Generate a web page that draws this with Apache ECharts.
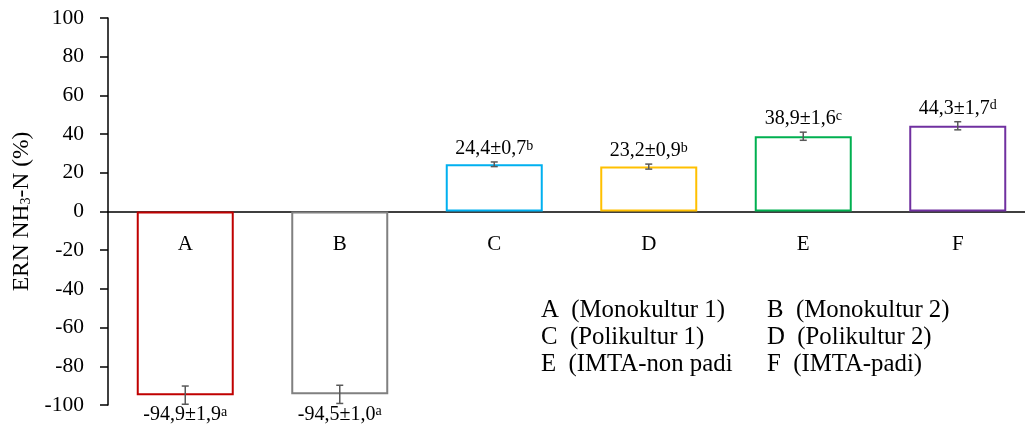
<!DOCTYPE html>
<html><head><meta charset="utf-8">
<script src="https://cdn.jsdelivr.net/npm/echarts@6/dist/echarts.min.js"></script>
<style>html,body{margin:0;padding:0;background:#fff}#c{width:1025px;height:426px}</style>
</head><body><div id="c"></div>
<script>
const categories = ['A','B','C','D','E','F'];
const values = [-94.9, -94.5, 24.4, 23.2, 38.9, 44.3];
const errDrawn = [4.7, 4.7, 1.2, 1.3, 2.1, 2.1];
const labelMain = ['-94,9±1,9', '-94,5±1,0', '24,4±0,7', '23,2±0,9', '38,9±1,6', '44,3±1,7'];
const labelSup = ['a', 'a', 'b', 'b', 'c', 'd'];
const barColors = ['#C00000', '#808080', '#00B0F0', '#FFC000', '#00B050', '#7030A0'];
const legendLeft = ['A  (Monokultur 1)', 'C  (Polikultur 1)', 'E  (IMTA-non padi'];
const legendRight = ['B  (Monokultur 2)', 'D  (Polikultur 2)', 'F  (IMTA-padi)'];
const yTicks = {min: -100, max: 100, interval: 20};

const FONT = '"Liberation Serif", "Times New Roman", serif';
const chart = echarts.init(document.getElementById('c'));

const graphics = [];
legendLeft.forEach((t, i) => {
  graphics.push({type: 'text', left: 541, top: 298 + i * 27, style: {text: t, font: '24.8px ' + FONT, fill: '#000'}});
});
legendRight.forEach((t, i) => {
  graphics.push({type: 'text', left: 767, top: 298 + i * 27, style: {text: t, font: '24.8px ' + FONT, fill: '#000'}});
});

chart.setOption({
  animation: false,
  textStyle: {fontFamily: FONT},
  grid: {left: 108, top: 18, width: 927, height: 387, containLabel: false, outerBoundsMode: 'none'},
  xAxis: {
    type: 'category', data: categories,
    axisLine: {onZero: true, lineStyle: {color: '#000', width: 1.5}},
    axisTick: {show: false},
    axisLabel: {show: false}
  },
  yAxis: {
    type: 'value', min: yTicks.min, max: yTicks.max, interval: yTicks.interval,
    splitLine: {show: false},
    axisLine: {show: true, lineStyle: {color: '#000', width: 1.5}},
    axisTick: {show: true, length: 8, lineStyle: {color: '#000', width: 1.5}},
    axisLabel: {fontSize: 21.5, color: '#000', fontFamily: FONT, margin: 24},
    name: '{a|ERN NH}{s|3}{a|-N (%)}',
    nameLocation: 'middle', nameRotate: 90, nameGap: 72,
    nameTextStyle: {
      rich: {
        a: {fontSize: 23.5, fontFamily: FONT, color: '#000'},
        s: {fontSize: 14, fontFamily: FONT, color: '#000', verticalAlign: 'bottom'}
      }
    }
  },
  series: [
    {
      type: 'bar', barWidth: 97,
      data: values.map((v, i) => ({value: v, itemStyle: {color: '#fff', borderColor: barColors[i], borderWidth: 2}})),
      z: 2
    },
    {
      type: 'custom', z: 5,
      data: values.map((v, i) => [i, v, errDrawn[i]]),
      renderItem: function (params, api) {
        const i = api.value(0), v = api.value(1), e = api.value(2);
        const top = api.coord([i, v + e]);
        const bot = api.coord([i, v - e]);
        const zero = api.coord([i, 0]);
        const x = top[0];
        const cap = 3.5;
        const st = {stroke: '#595959', lineWidth: 1.5};
        const pos = v >= 0;
        return {
          type: 'group',
          children: [
            {type: 'line', shape: {x1: x, y1: top[1], x2: x, y2: bot[1]}, style: st},
            {type: 'line', shape: {x1: x - cap, y1: top[1], x2: x + cap, y2: top[1]}, style: st},
            {type: 'line', shape: {x1: x - cap, y1: bot[1], x2: x + cap, y2: bot[1]}, style: st},
            {
              type: 'text', x: x, y: pos ? top[1] - 3 : bot[1] + 1,
              style: {
                text: '{n|' + labelMain[params.dataIndex] + '}{s|' + labelSup[params.dataIndex] + '}',
                align: 'center', verticalAlign: pos ? 'bottom' : 'top',
                rich: {
                  n: {fontSize: 20, fontFamily: FONT, fill: '#000', color: '#000'},
                  s: {fontSize: 14, fontFamily: FONT, fill: '#000', color: '#000', verticalAlign: 'top'}
                }
              }
            },
            {
              type: 'text', x: x, y: zero[1] + 33,
              style: {
                text: categories[params.dataIndex], align: 'center', verticalAlign: 'middle',
                font: '21px ' + FONT, fill: '#000'
              }
            }
          ]
        };
      }
    }
  ],
  graphic: graphics
});
</script></body></html>
